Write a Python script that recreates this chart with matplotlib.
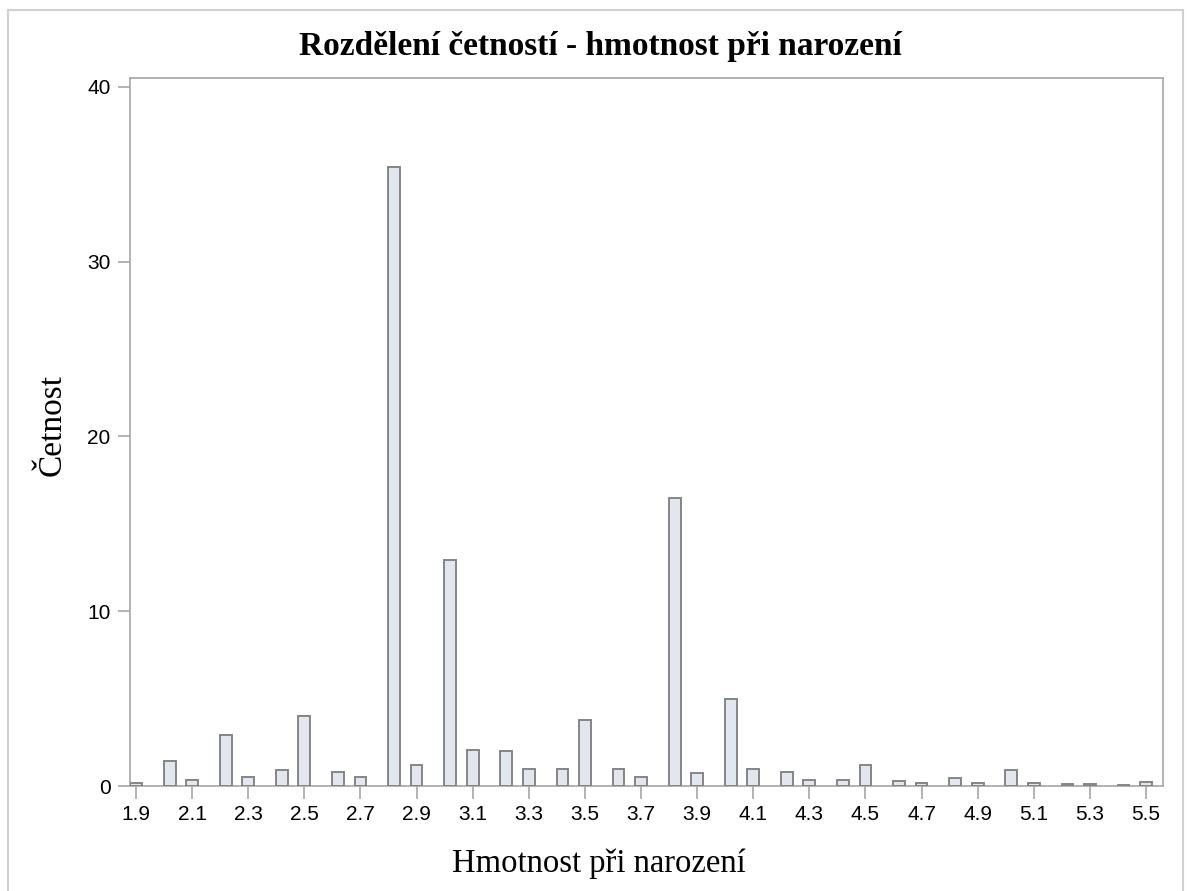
import matplotlib
matplotlib.use('Agg')
import matplotlib.pyplot as plt
from matplotlib.patches import Rectangle

# hmotnost (kg) - stred sloupce
hmotnost = [1.9, 2.02, 2.1, 2.22, 2.3, 2.42, 2.5, 2.62, 2.7, 2.82, 2.9, 3.02, 3.1,
            3.22, 3.3, 3.42, 3.5, 3.62, 3.7, 3.82, 3.9, 4.02, 4.1, 4.22, 4.3, 4.42,
            4.5, 4.62, 4.7, 4.82, 4.9, 5.02, 5.1, 5.22, 5.3, 5.42, 5.5]
cetnost = [0.2, 1.45, 0.37, 2.9, 0.5, 0.9, 4.0, 0.8, 0.5, 35.4, 1.18, 12.9, 2.05,
           2.0, 0.95, 0.95, 3.75, 0.95, 0.5, 16.45, 0.73, 5.0, 0.95, 0.82, 0.37, 0.37,
           1.2, 0.28, 0.18, 0.43, 0.18, 0.9, 0.15, 0.13, 0.13, 0.07, 0.25]
xticks = [1.9, 2.1, 2.3, 2.5, 2.7, 2.9, 3.1, 3.3, 3.5, 3.7, 3.9, 4.1, 4.3, 4.5,
          4.7, 4.9, 5.1, 5.3, 5.5]
xtick_labels = ['1.9', '2.1', '2.3', '2.5', '2.7', '2.9', '3.1', '3.3', '3.5', '3.7',
                '3.9', '4.1', '4.3', '4.5', '4.7', '4.9', '5.1', '5.3', '5.5']
yticks = [0, 10, 20, 30, 40]

axis_col = '#a6a6a6'

fig = plt.figure(figsize=(11.9, 8.91), dpi=100)
# sedy ramecek kolem celeho grafu
fig.patches.append(Rectangle((8/1190, -0.01), 1175/1190, 1 - 10/891 + 0.01,
                             transform=fig.transFigure, fill=False,
                             edgecolor='#d0d0d0', linewidth=1.5))

ax = fig.add_axes([130/1190, 105/891, 1033/1190, 708/891])
ax.bar(hmotnost, cetnost, width=0.042, color='#e2e6ef', edgecolor='#858585',
       linewidth=1.4, zorder=3)

ax.set_xlim(1.8786, 5.5606)
ax.set_ylim(0, 40.5)
ax.set_xticks(xticks)
ax.set_xticklabels(xtick_labels)
ax.set_yticks(yticks)
for s in ax.spines.values():
    s.set_color(axis_col)
    s.set_linewidth(1.2)
ax.tick_params(axis='both', direction='out', length=9, width=1.2, color=axis_col,
               labelsize=15, pad=5)
for lab in ax.get_xticklabels() + ax.get_yticklabels():
    lab.set_family(['Liberation Sans', 'DejaVu Sans'])

fig.text(600/1190, 1 - 47/891, 'Rozdělení četností - hmotnost při narození',
         ha='center', va='center', fontsize=24, fontweight='bold',
         family=['Liberation Serif', 'DejaVu Serif'])
fig.text(52/1190, 1 - 425/891, 'Četnost', ha='center', va='center', rotation=90,
         fontsize=24, family=['Liberation Serif', 'DejaVu Serif'])
fig.text(599/1190, 1 - 864/891, 'Hmotnost při narození', ha='center', va='center',
         fontsize=23.5, family=['Liberation Serif', 'DejaVu Serif'])

fig.savefig('out.png', dpi=100)
